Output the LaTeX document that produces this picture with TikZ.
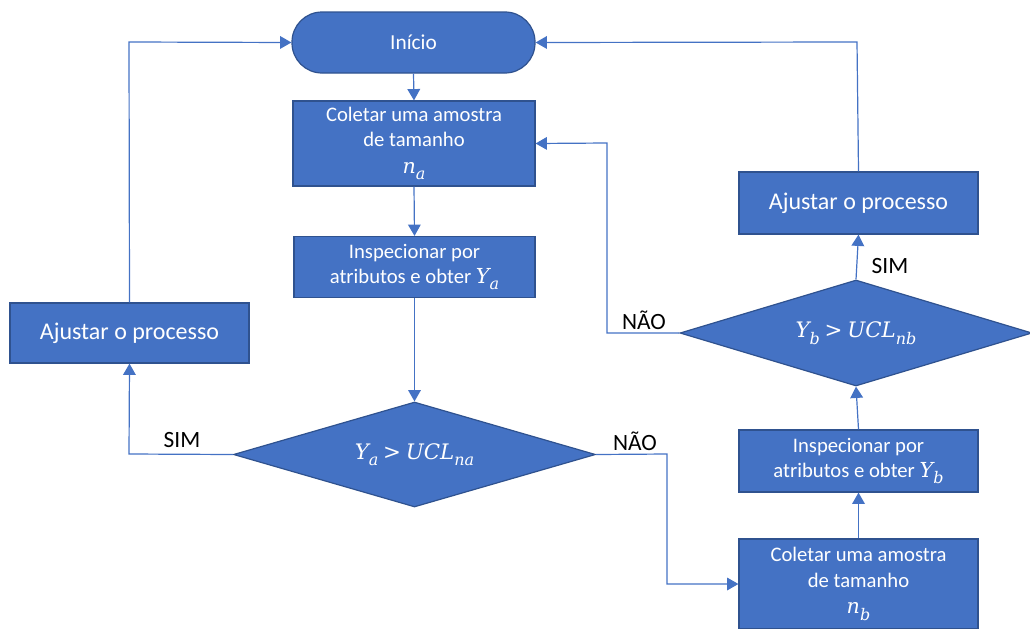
\documentclass[tikz,border=0pt]{standalone}
\usepackage{fontspec}
\setmainfont{Carlito}
\newfontfamily\mathfam{DejaVu Serif}
\newcommand\mv[1]{{\mathfam\itshape #1}}
\newcommand\ms[1]{\raisebox{-0.3em}{\fontsize{12}{14}\selectfont\mathfam\itshape #1}}
\usetikzlibrary{shapes.geometric,arrows.meta}
\definecolor{boxfill}{HTML}{4472C4}
\definecolor{boxline}{HTML}{2F528F}
\definecolor{conn}{HTML}{4472C4}
\begin{document}
\begin{tikzpicture}[x=0.75pt,y=-0.75pt,
  base/.style={draw=boxline,fill=boxfill,line width=0.9pt,text=white,align=center,inner sep=0pt},
  procbox/.style={base,rectangle,minimum width={#1*0.75pt}},
  decbox/.style={base,diamond,shape aspect=3.4},
  conn/.style={draw=conn,line width=0.9pt,-{Triangle[width=9.5pt,length=8.5pt]}},
  lbl/.style={font=\fontsize{17.5}{20}\selectfont,text=black,inner sep=0pt}
]
\useasboundingbox (0,0) rectangle (1030,628);
\node[base,rounded corners=22.5pt,minimum width={243*0.75pt},minimum height={61*0.75pt},font=\fontsize{16}{19}\selectfont] (inicio) at (413.5,42.5) {Início};
\node[procbox=242,minimum height={85*0.75pt},font=\fontsize{15.5}{19}\selectfont] (colA) at (414,143.5) {Coletar uma amostra\\de tamanho\\[1pt]\mv{n}\ms{a}};
\node[procbox=241,minimum height={61*0.75pt},font=\fontsize{15.5}{19}\selectfont] (insA) at (414.5,267) {Inspecionar por\\atributos e obter \mv{Y}\ms{a}};
\node[decbox,minimum width={362*0.75pt},minimum height={105*0.75pt},font=\fontsize{16}{20}\selectfont] (decA) at (414.5,454.5) {\mv{Y}\ms{a} {\mathfam >} \mv{UCL}\ms{na}};
\node[procbox=239,minimum height={60*0.75pt},font=\fontsize{18}{21}\selectfont] (adjL) at (129.5,333) {Ajustar o processo};
\node[procbox=239,minimum height={62*0.75pt},font=\fontsize{18}{21}\selectfont] (adjR) at (858.5,203) {Ajustar o processo};
\node[decbox,minimum width={352*0.75pt},minimum height={106*0.75pt},font=\fontsize{16}{20}\selectfont] (decB) at (856,333) {\mv{Y}\ms{b} {\mathfam >} \mv{UCL}\ms{nb}};
\node[procbox=239,minimum height={62*0.75pt},font=\fontsize{15.5}{19}\selectfont] (insB) at (858.5,461) {Inspecionar por\\atributos e obter \mv{Y}\ms{b}};
\node[procbox=239,minimum height={90*0.75pt},font=\fontsize{15.5}{19}\selectfont] (colB) at (858.5,584) {Coletar uma amostra\\de tamanho\\[1pt]\mv{n}\ms{b}};

\coordinate (cL1) at (129,42);
\coordinate (cR1) at (857,42);
\coordinate (cA) at (129,454);
\coordinate (cB1) at (667,454);
\coordinate (cB2) at (667,584);
\coordinate (cN1) at (607,333);
\coordinate (cN2) at (607,143);

\draw[conn] (inicio.south) -- (colA.north);
\draw[conn] (colA.south) -- (insA.north);
\draw[conn] (insA.south) -- (decA.north);
\draw[conn] (decA.west) -- (cA) -- (adjL.south);
\draw[conn] (adjL.north) -- (cL1) -- (inicio.west);
\draw[conn] (decA.east) -- (cB1) -- (cB2) -- (colB.west);
\draw[conn] (colB.north) -- (insB.south);
\draw[conn] (insB.north) -- (decB.south);
\draw[conn] (decB.north) -- (adjR.south);
\draw[conn] (adjR.north) -- (cR1) -- (inicio.east);
\draw[conn] (decB.west) -- (cN1) -- (cN2) -- (colA.east);

\node[lbl] (simL) at (182,440) {SIM};
\node[lbl] (naoB) at (635,441) {NÃO};
\node[lbl] (naoR) at (644,320) {NÃO};
\node[lbl] (simR) at (890,266) {SIM};
\end{tikzpicture}
\end{document}
